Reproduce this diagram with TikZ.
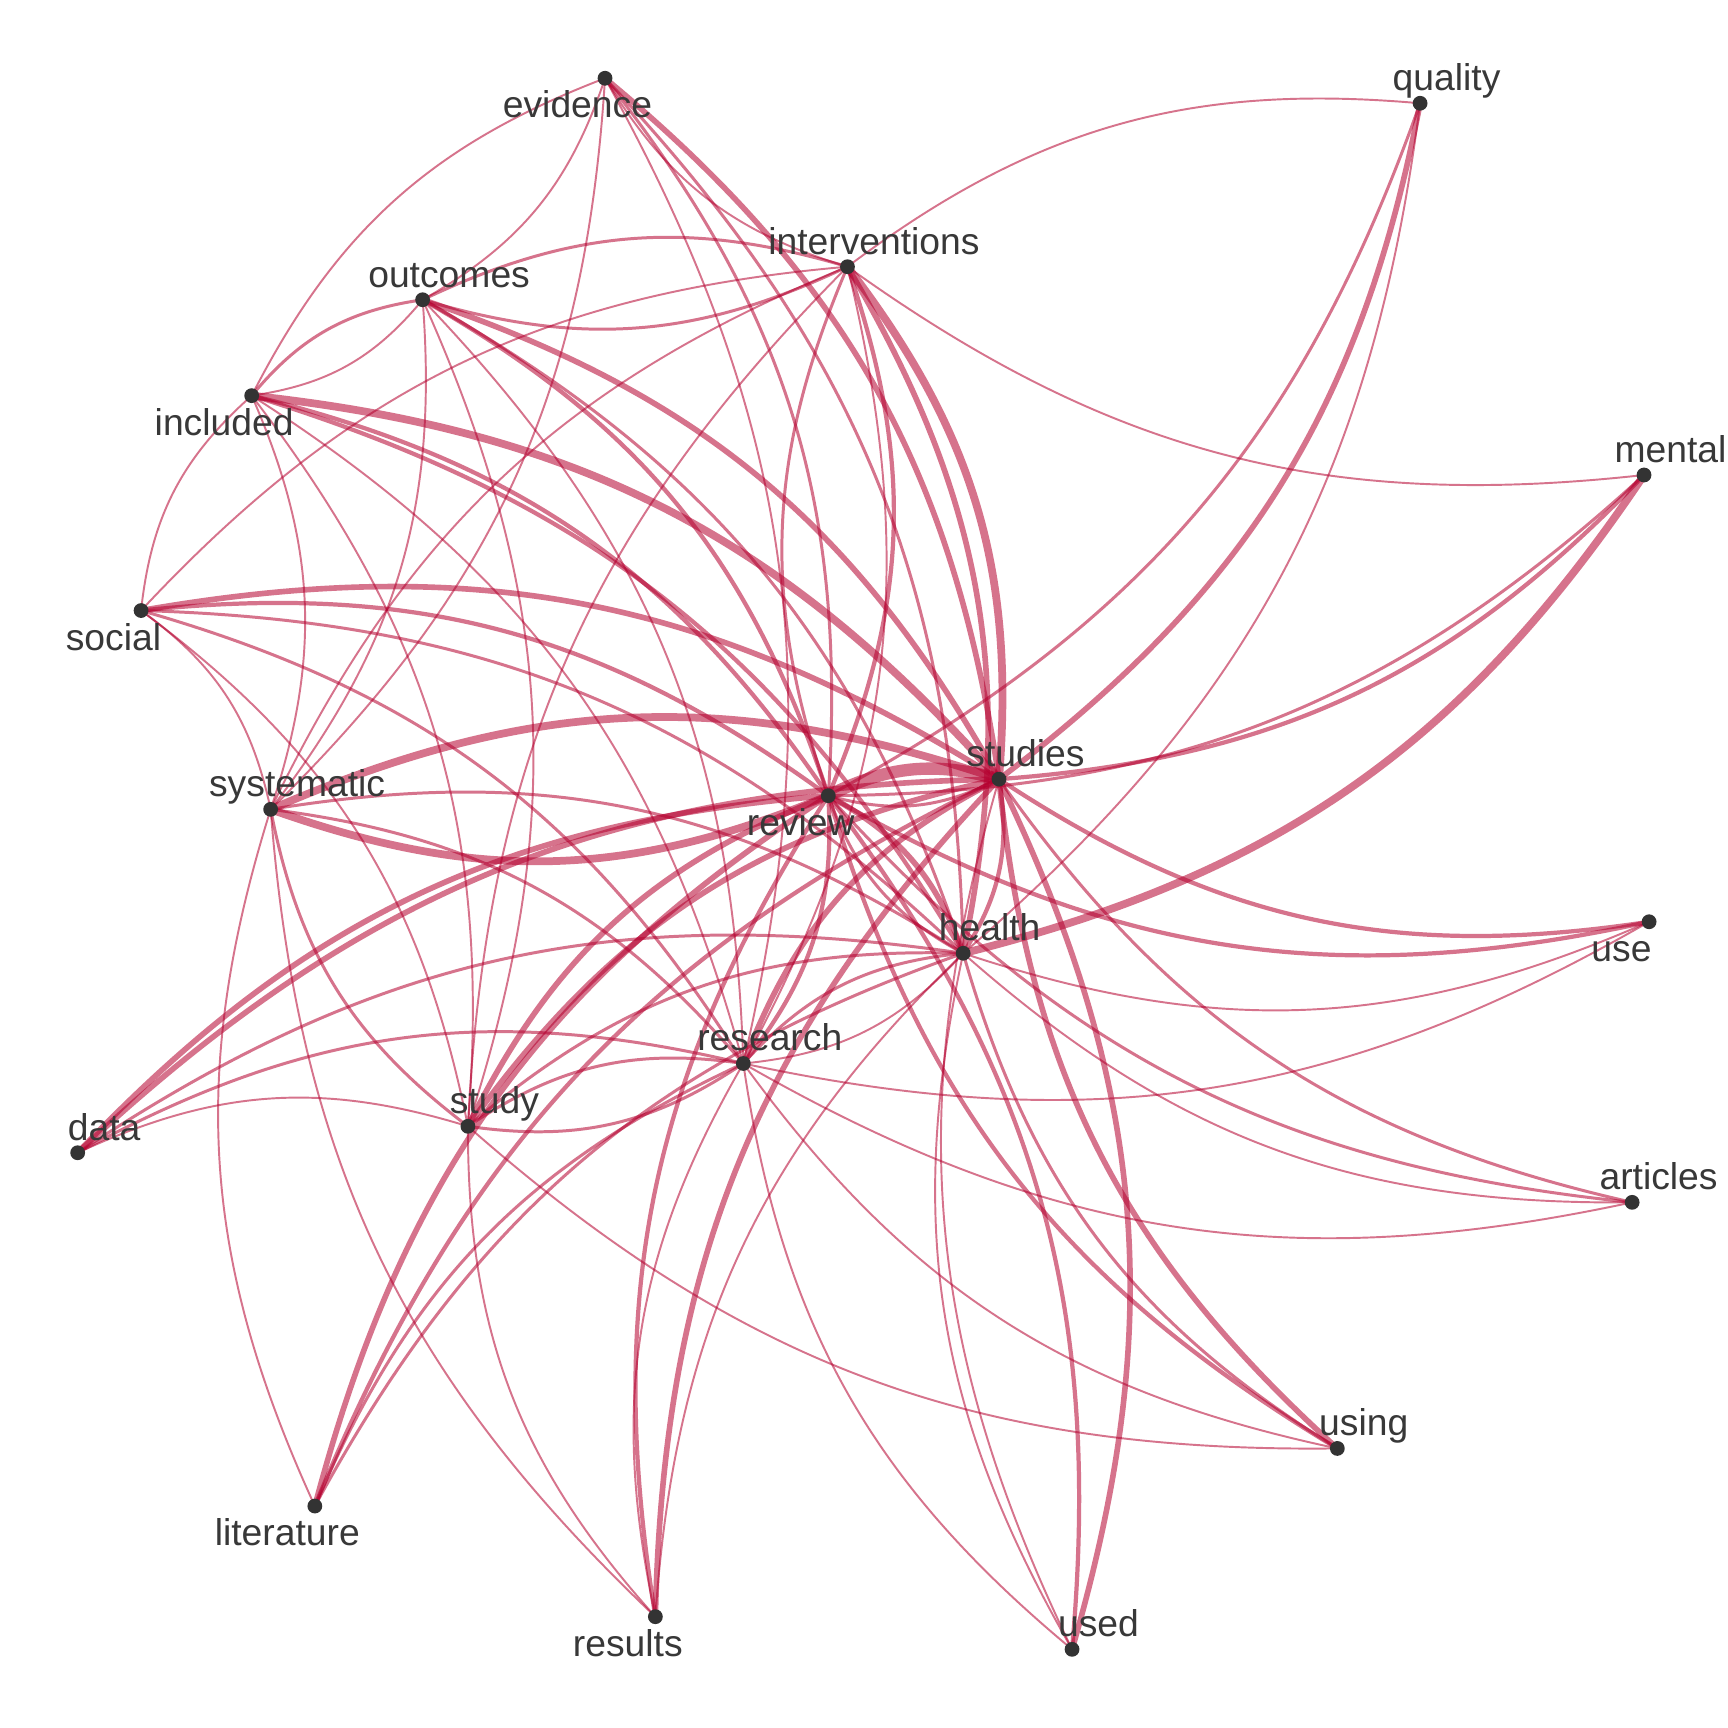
\documentclass[tikz,border=0pt]{standalone}
\usepackage{fontspec}
\setmainfont{Liberation Sans}
\definecolor{edgecol}{RGB}{181,0,47}
\definecolor{dotcol}{RGB}{51,51,51}
\definecolor{txtcol}{RGB}{56,56,56}
\tikzset{
  ed/.style={draw=edgecol, draw opacity=0.55},
  arcL/.style={bend left=21},
  lwA/.style={line width=0.55pt},
  lwB/.style={line width=0.85pt},
  lwC/.style={line width=1.2pt},
  lwD/.style={line width=1.6pt},
  lwE/.style={line width=2.2pt},
  lwF/.style={line width=3.5pt},
  dot/.style={circle, fill=dotcol, inner sep=0pt, minimum size=0.148cm},
  lab/.style={text=txtcol, font=\fontsize{10.6}{12}\selectfont, anchor=base, inner sep=0pt}
}
\begin{document}
\begin{tikzpicture}[x=0.01102cm, y=-0.01102cm]
\path[use as bounding box, fill=white] (0,0) rectangle (1568,1568);
% node positions
\coordinate (evidence) at (549,71);
\coordinate (quality) at (1288.6,93.7);
\coordinate (interventions) at (769,242);
\coordinate (outcomes) at (383.5,272);
\coordinate (included) at (228.4,359);
\coordinate (mental) at (1491.8,431);
\coordinate (social) at (128,554);
\coordinate (studies) at (906.5,707);
\coordinate (review) at (751.6,722);
\coordinate (systematic) at (245.6,734.4);
\coordinate (use) at (1496.4,836.4);
\coordinate (health) at (874,865);
\coordinate (research) at (674.5,965);
\coordinate (study) at (424.6,1022);
\coordinate (data) at (70.5,1046);
\coordinate (articles) at (1481,1091);
\coordinate (using) at (1213.5,1314.3);
\coordinate (literature) at (285.7,1366.6);
\coordinate (results) at (594.7,1467);
\coordinate (used) at (972.8,1496.6);
% edges
\draw[ed,lwA] (included) to[arcL] (evidence);
\draw[ed,lwA] (evidence) to[arcL] (outcomes);
\draw[ed,lwA] (evidence) to[arcL] (systematic);
\draw[ed,lwA] (interventions) to[arcL] (evidence);
\draw[ed,lwA] (evidence) to[arcL] (research);
\draw[ed,lwB] (evidence) to[arcL] (review);
\draw[ed,lwB] (evidence) to[arcL] (health);
\draw[ed,lwD] (evidence) to[arcL] (studies);
\draw[ed,lwA] (interventions) to[arcL] (quality);
\draw[ed,lwA] (mental) to[arcL] (interventions);
\draw[ed,lwB] (outcomes) to[arcL] (interventions);
\draw[ed,lwB] (interventions) to[arcL] (outcomes);
\draw[ed,lwA] (social) to[arcL] (interventions);
\draw[ed,lwE] (interventions) to[arcL] (studies);
\draw[ed,lwD] (interventions) to[arcL] (health);
\draw[ed,lwC] (interventions) to[arcL] (review);
\draw[ed,lwA] (interventions) to[arcL] (research);
\draw[ed,lwB] (review) to[arcL] (interventions);
\draw[ed,lwA] (systematic) to[arcL] (interventions);
\draw[ed,lwA] (study) to[arcL] (interventions);
\draw[ed,lwB] (included) to[arcL] (outcomes);
\draw[ed,lwA] (outcomes) to[arcL] (included);
\draw[ed,lwD] (outcomes) to[arcL] (studies);
\draw[ed,lwC] (outcomes) to[arcL] (review);
\draw[ed,lwB] (outcomes) to[arcL] (health);
\draw[ed,lwA] (outcomes) to[arcL] (research);
\draw[ed,lwA] (outcomes) to[arcL] (systematic);
\draw[ed,lwA] (outcomes) to[arcL] (study);
\draw[ed,lwE] (included) to[arcL] (studies);
\draw[ed,lwC] (included) to[arcL] (review);
\draw[ed,lwC] (included) to[arcL] (health);
\draw[ed,lwA] (included) to[arcL] (research);
\draw[ed,lwA] (included) to[arcL] (study);
\draw[ed,lwA] (included) to[arcL] (systematic);
\draw[ed,lwA] (social) to[arcL] (included);
\draw[ed,lwD] (social) to[arcL] (studies);
\draw[ed,lwC] (social) to[arcL] (review);
\draw[ed,lwB] (social) to[arcL] (health);
\draw[ed,lwB] (social) to[arcL] (research);
\draw[ed,lwA] (social) to[arcL] (systematic);
\draw[ed,lwA] (social) to[arcL] (study);
\draw[ed,lwE] (systematic) to[arcL] (studies);
\draw[ed,lwE] (review) to[arcL] (systematic);
\draw[ed,lwB] (systematic) to[arcL] (health);
\draw[ed,lwB] (systematic) to[arcL] (research);
\draw[ed,lwB] (study) to[arcL] (systematic);
\draw[ed,lwA] (results) to[arcL] (systematic);
\draw[ed,lwA] (literature) to[arcL] (systematic);
\draw[ed,lwF] (review) to[arcL] (studies);
\draw[ed,lwB] (studies) to[arcL] (review);
\draw[ed,lwD] (data) to[arcL] (review);
\draw[ed,lwD] (data) to[arcL] (studies);
\draw[ed,lwD] (study) to[arcL] (review);
\draw[ed,lwD] (study) to[arcL] (studies);
\draw[ed,lwD] (literature) to[arcL] (review);
\draw[ed,lwC] (literature) to[arcL] (studies);
\draw[ed,lwC] (results) to[arcL] (review);
\draw[ed,lwD] (results) to[arcL] (studies);
\draw[ed,lwC] (review) to[arcL] (used);
\draw[ed,lwD] (studies) to[arcL] (used);
\draw[ed,lwC] (using) to[arcL] (review);
\draw[ed,lwD] (using) to[arcL] (studies);
\draw[ed,lwC] (use) to[arcL] (review);
\draw[ed,lwC] (use) to[arcL] (studies);
\draw[ed,lwB] (articles) to[arcL] (review);
\draw[ed,lwB] (articles) to[arcL] (studies);
\draw[ed,lwB] (mental) to[arcL] (review);
\draw[ed,lwC] (mental) to[arcL] (studies);
\draw[ed,lwB] (quality) to[arcL] (review);
\draw[ed,lwD] (quality) to[arcL] (studies);
\draw[ed,lwD] (review) to[arcL] (health);
\draw[ed,lwB] (health) to[arcL] (review);
\draw[ed,lwC] (review) to[arcL] (research);
\draw[ed,lwD] (research) to[arcL] (studies);
\draw[ed,lwB] (research) to[arcL] (health);
\draw[ed,lwA] (health) to[arcL] (research);
\draw[ed,lwB] (study) to[arcL] (health);
\draw[ed,lwB] (data) to[arcL] (health);
\draw[ed,lwB] (data) to[arcL] (research);
\draw[ed,lwA] (data) to[arcL] (study);
\draw[ed,lwB] (study) to[arcL] (research);
\draw[ed,lwB] (research) to[arcL] (study);
\draw[ed,lwA] (results) to[arcL] (study);
\draw[ed,lwA] (using) to[arcL] (study);
\draw[ed,lwA] (used) to[arcL] (health);
\draw[ed,lwA] (used) to[arcL] (research);
\draw[ed,lwA] (used) to[arcL] (studies);
\draw[ed,lwB] (using) to[arcL] (health);
\draw[ed,lwA] (using) to[arcL] (research);
\draw[ed,lwA] (use) to[arcL] (health);
\draw[ed,lwA] (use) to[arcL] (research);
\draw[ed,lwA] (articles) to[arcL] (health);
\draw[ed,lwA] (articles) to[arcL] (research);
\draw[ed,lwE] (mental) to[arcL] (health);
\draw[ed,lwA] (quality) to[arcL] (health);
\draw[ed,lwB] (literature) to[arcL] (research);
\draw[ed,lwB] (literature) to[arcL] (health);
\draw[ed,lwA] (results) to[arcL] (health);
\draw[ed,lwA] (results) to[arcL] (research);
\draw[ed,lwC] (studies) to[arcL] (health);
% dots
\foreach \n in {evidence,quality,interventions,outcomes,included,mental,social,studies,review,systematic,use,health,research,study,data,articles,using,literature,results,used}
  \node[dot] (d-\n) at (\n) {};
% labels above-right
\foreach \n in {quality,interventions,outcomes,mental,studies,systematic,health,research,study,data,articles,using,used}
  \node[lab] (l-\n) at ([xshift=0.2645cm, yshift=0.127cm]\n) {\n};
% labels below-left
\foreach \n in {evidence,included,social,review,use,literature,results}
  \node[lab] (l-\n) at ([xshift=-0.2755cm, yshift=-0.397cm]\n) {\n};
\end{tikzpicture}
\end{document}
